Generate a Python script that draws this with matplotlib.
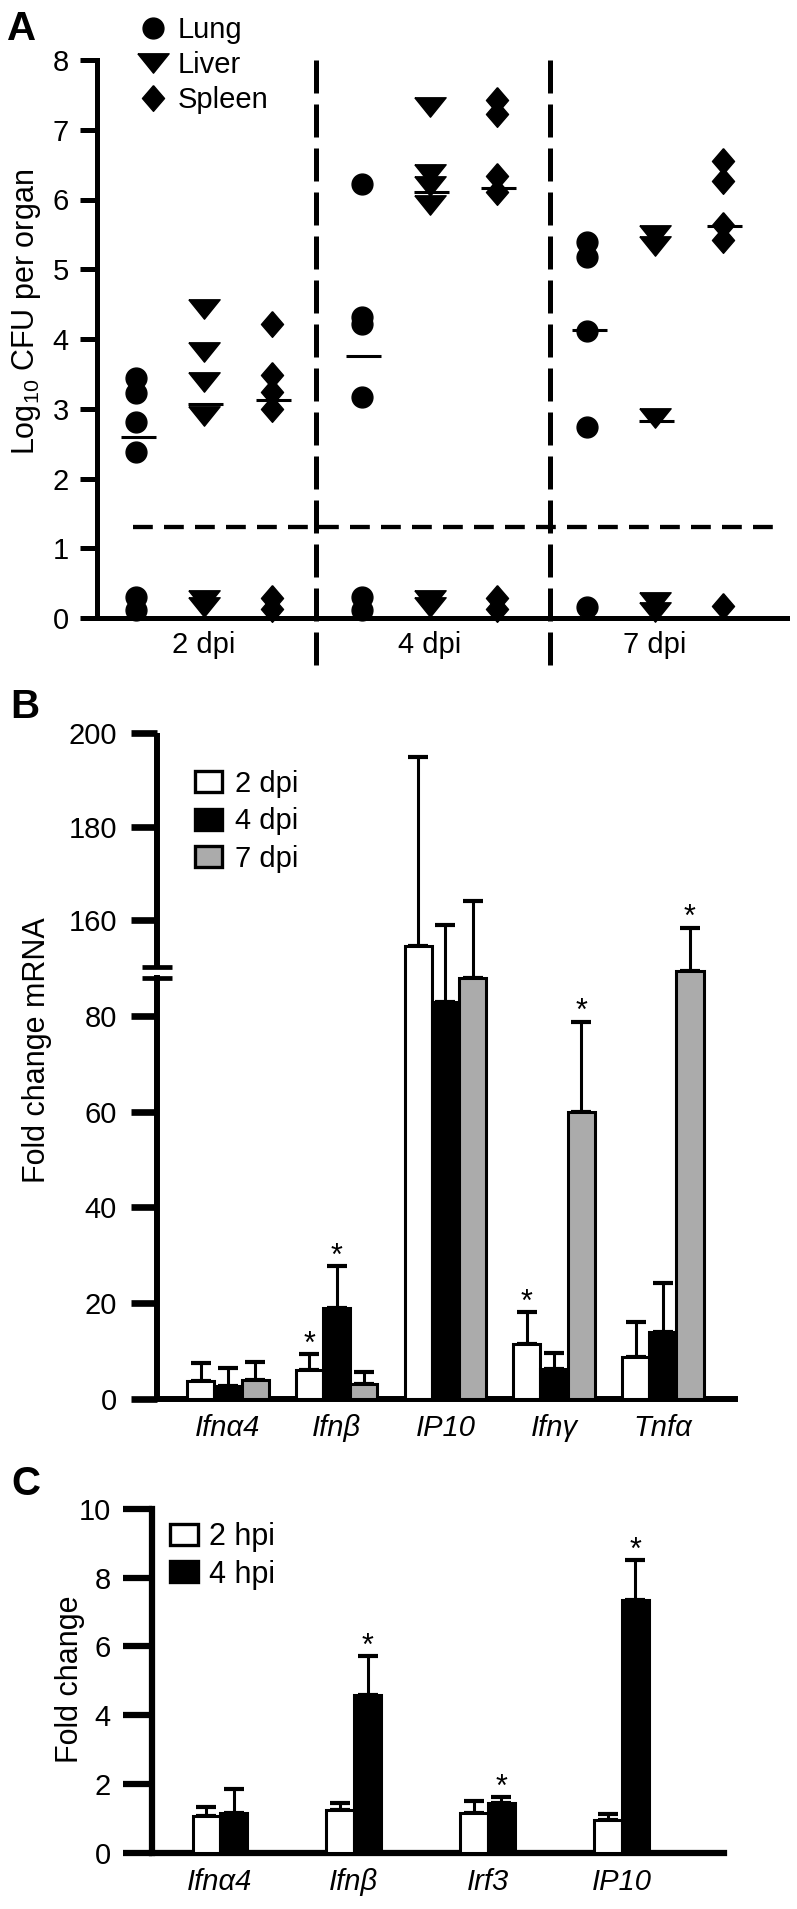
import numpy as np
import matplotlib
matplotlib.use('Agg')
import matplotlib.pyplot as plt
from matplotlib.path import Path
from matplotlib.lines import Line2D
from matplotlib.patches import Patch

plt.rcParams['font.family'] = ['Liberation Sans', 'DejaVu Sans']
plt.rcParams['mathtext.fontset'] = 'custom'
plt.rcParams['mathtext.rm'] = 'Liberation Sans'
plt.rcParams['mathtext.it'] = 'Liberation Sans:italic'

# ---------------- Panel A data ----------------
days_A = ['2 dpi', '4 dpi', '7 dpi']
organs = ['Lung', 'Liver', 'Spleen']
lung_cfu = [[3.44, 3.22, 2.81, 2.38, 0.30, 0.11],
            [6.22, 4.32, 4.22, 3.17, 0.30, 0.11],
            [5.39, 5.17, 4.11, 2.74, 0.16]]
liver_cfu = [[4.43, 3.82, 3.38, 2.90, 0.26, 0.16],
             [7.33, 6.36, 6.20, 5.92, 0.26, 0.16],
             [5.49, 5.33, 2.87, 0.23, 0.08]]
spleen_cfu = [[4.21, 3.48, 3.24, 2.99, 0.29, 0.13],
              [7.42, 7.22, 6.33, 6.11, 0.29, 0.13],
              [6.55, 6.27, 5.64, 5.42, 0.17]]
lung_median = [2.59, 3.75, 4.13]
liver_median = [3.07, 6.11, 2.82]
spleen_median = [3.12, 6.17, 5.62]
detection_limit = 1.3

# ---------------- Panel B data ----------------
genes_B = ['Ifnα4', 'Ifnβ', 'IP10', 'Ifnγ', 'Tnfα']
series_B = ['2 dpi', '4 dpi', '7 dpi']
dpi2_mean = [3.7, 6.0, 154.5, 11.5, 8.8]
dpi2_sem = [3.9, 3.4, 40.5, 6.6, 7.2]
dpi4_mean = [2.7, 19.0, 82.9, 6.3, 13.9]
dpi4_sem = [3.8, 8.8, 76.0, 3.3, 10.3]
dpi7_mean = [4.0, 3.1, 88.0, 60.0, 89.4]
dpi7_sem = [3.8, 2.6, 76.1, 18.8, 69.0]
dpi2_sig = [False, True, False, True, False]
dpi4_sig = [False, True, False, False, False]
dpi7_sig = [False, False, False, True, True]
yticks_B = [0, 20, 40, 60, 80, 160, 180, 200]

# ---------------- Panel C data ----------------
genes_C = ['Ifnα4', 'Ifnβ', 'Irf3', 'IP10']
series_C = ['2 hpi', '4 hpi']
hpi2_mean = [1.08, 1.25, 1.17, 0.95]
hpi2_sem = [0.26, 0.20, 0.33, 0.17]
hpi4_mean = [1.16, 4.58, 1.44, 7.34]
hpi4_sem = [0.71, 1.14, 0.18, 1.16]
hpi2_sig = [False, False, False, False]
hpi4_sig = [False, True, True, True]
yticks_C = [0, 2, 4, 6, 8, 10]

W, H = 797, 1909
fig = plt.figure(figsize=(W / 100, H / 100), dpi=100)


def ax_px(left, right, top, bottom):
    return fig.add_axes([left / W, 1 - bottom / H, (right - left) / W, (bottom - top) / H])


FS = 21
GRAY = '#ababab'

# ======================= Panel A =======================
axA = ax_px(96.7, 787, 60, 618)
axA.set_xlim(-0.476, 2.585)
axA.set_ylim(0, 8)
for s in ['top', 'right']:
    axA.spines[s].set_visible(False)
for s in ['left', 'bottom']:
    axA.spines[s].set_linewidth(3.6)
axA.tick_params(axis='y', length=12, width=3.6, pad=8, labelsize=FS, direction='out')
axA.tick_params(axis='x', length=0, pad=9.5, labelsize=FS)
axA.set_yticks(range(0, 9))
axA.set_xticks(range(len(days_A)))
axA.set_xticklabels(days_A)

tri = Path([(-1, 0.62), (1, 0.62), (0, -0.62), (-1, 0.62)])
dia = Path([(0, 1), (0.86, 0), (0, -1), (-0.86, 0), (0, 1)])
marker_defs = [('o', 15), (tri, 22.5), (dia, 18.5)]
offsets_A = [-0.3, 0.0, 0.3]
organ_data = [lung_cfu, liver_cfu, spleen_cfu]
organ_med = [lung_median, liver_median, spleen_median]
for oi, (vals, meds) in enumerate(zip(organ_data, organ_med)):
    mk, ms = marker_defs[oi]
    for gi in range(len(days_A)):
        xpos = gi + offsets_A[oi]
        v = vals[gi]
        axA.plot([xpos] * len(v), v, ls='none', marker=mk, ms=ms, color='k',
                 mec='k', clip_on=False, zorder=4)
        axA.plot([xpos - 0.07, xpos + 0.085], [meds[gi], meds[gi]], color='k',
                 lw=2.2, zorder=5, solid_capstyle='butt')

axA.axhline(detection_limit, xmin=0.053, xmax=0.987, color='k', lw=3.1,
            ls=(0, (4.6, 2.6)), zorder=3)
for xv in [0.495, 1.533]:
    axA.plot([xv, xv], [-0.68, 8.0], color='k', lw=3.6, ls=(0, (6.6, 2.2)),
             clip_on=False, zorder=3)

fig.text(27 / W, 1 - 312 / H, r'Log$_{\mathregular{10}}$ CFU per organ', rotation=90,
         ha='center', va='center', fontsize=22)

handlesA = [Line2D([], [], ls='none', marker=m, ms=s, color='k') for m, s in marker_defs]
axA.legend(handlesA, organs, loc='upper left', bbox_to_anchor=(139 / W, 1 - 16 / H),
           bbox_transform=fig.transFigure, frameon=False, fontsize=FS,
           handlelength=0.95, handletextpad=0.36, labelspacing=0.24,
           borderpad=0, borderaxespad=0)

# ======================= Panel B =======================
axB = ax_px(157.2, 735.4, 733.3, 1399)
nodes_v = [0, 90, 150, 200]
nodes_p = [0, 431, 432, 665.7]


def fwd(v):
    return np.interp(v, nodes_v, nodes_p)


def inv(p):
    return np.interp(p, nodes_p, nodes_v)


axB.set_yscale('function', functions=(fwd, inv))
axB.set_ylim(0, 200)
axB.set_xlim(-0.651, 4.668)
for s in ['top', 'right']:
    axB.spines[s].set_visible(False)
for s in ['left', 'bottom']:
    axB.spines[s].set_linewidth(4.3)
BRK_LO, BRK_HI = 88.0, 150.1
axB.spines['left'].set_bounds(0, BRK_LO)
axB.plot([0, 0], [BRK_HI, 200], transform=axB.get_yaxis_transform(), color='k',
         lw=4.3, clip_on=False, solid_capstyle='butt', zorder=6)
for yb in [BRK_LO, BRK_HI]:
    axB.plot([-0.027, 0.025], [yb, yb], transform=axB.get_yaxis_transform(), color='k',
             lw=3.4, clip_on=False, solid_capstyle='butt', zorder=6)
axB.set_yticks(yticks_B)
axB.set_yticklabels([str(t) for t in yticks_B])
axB.yaxis.set_minor_locator(matplotlib.ticker.NullLocator())
axB.tick_params(axis='y', length=19, width=4.8, pad=10, labelsize=FS, direction='out')
axB.tick_params(axis='x', length=0, pad=11, labelsize=FS)
xB = np.arange(len(genes_B))
axB.set_xticks(xB)
axB.set_xticklabels(genes_B, fontstyle='italic')

bw = 0.25
colors_B = ['white', 'black', GRAY]
means_B = [dpi2_mean, dpi4_mean, dpi7_mean]
sems_B = [dpi2_sem, dpi4_sem, dpi7_sem]
sigs_B = [dpi2_sig, dpi4_sig, dpi7_sig]
for si in range(3):
    xs = xB + (si - 1) * bw
    m = np.array(means_B[si])
    e = np.array(sems_B[si])
    axB.bar(xs, m, width=bw, color=colors_B[si], edgecolor='k', linewidth=2.2,
            zorder=3, label=series_B[si])
    axB.errorbar(xs, m, yerr=[np.zeros_like(e), e], fmt='none', ecolor='k',
                 elinewidth=2.2, capsize=7, capthick=3, zorder=2)
    for xi, mi, ei, sg in zip(xs, m, e, sigs_B[si]):
        if sg:
            axB.annotate('*', xy=(xi, mi + ei), xytext=(0, 1), textcoords='offset points',
                         ha='center', va='baseline', fontsize=22, zorder=7)

handlesB = [Patch(facecolor=c, edgecolor='k', linewidth=2.4) for c in colors_B]
axB.legend(handlesB, series_B, loc='upper left', bbox_to_anchor=(195 / W, 1 - 770 / H),
           bbox_transform=fig.transFigure, frameon=False, fontsize=FS,
           handlelength=0.93, handleheight=0.74, handletextpad=0.45, labelspacing=0.32,
           borderpad=0, borderaxespad=0)

fig.text(37 / W, 1 - 1050 / H, 'Fold change mRNA', rotation=90, ha='center',
         va='center', fontsize=22)

# ======================= Panel C =======================
axC = ax_px(152.2, 723.7, 1508.7, 1853)
axC.set_ylim(0, 10)
axC.set_xlim(-0.506, 3.762)
for s in ['top', 'right']:
    axC.spines[s].set_visible(False)
for s in ['left', 'bottom']:
    axC.spines[s].set_linewidth(4.5)
axC.set_yticks(yticks_C)
axC.tick_params(axis='y', length=21, width=4.5, pad=9, labelsize=FS, direction='out')
axC.tick_params(axis='x', length=0, pad=10.5, labelsize=FS)
xC = np.arange(len(genes_C))
axC.set_xticks(xC)
axC.set_xticklabels(genes_C, fontstyle='italic')

bwc = 0.205
colors_C = ['white', 'black']
means_C = [hpi2_mean, hpi4_mean]
sems_C = [hpi2_sem, hpi4_sem]
sigs_C = [hpi2_sig, hpi4_sig]
for si in range(2):
    xs = xC + (si - 0.5) * bwc
    m = np.array(means_C[si])
    e = np.array(sems_C[si])
    axC.bar(xs, m, width=bwc, color=colors_C[si], edgecolor='k', linewidth=2.2, zorder=3)
    axC.errorbar(xs, m, yerr=[np.zeros_like(e), e], fmt='none', ecolor='k',
                 elinewidth=2.2, capsize=7, capthick=3, zorder=2)
    for xi, mi, ei, sg in zip(xs, m, e, sigs_C[si]):
        if sg:
            axC.annotate('*', xy=(xi, mi + ei), xytext=(0, 1), textcoords='offset points',
                         ha='center', va='baseline', fontsize=22, zorder=7)

handlesC = [Patch(facecolor=c, edgecolor='k', linewidth=2.4) for c in colors_C]
axC.legend(handlesC, series_C, loc='upper left', bbox_to_anchor=(169.5 / W, 1 - 1522 / H),
           bbox_transform=fig.transFigure, frameon=False, fontsize=22,
           handlelength=0.92, handleheight=0.68, handletextpad=0.36, labelspacing=0.25,
           borderpad=0, borderaxespad=0)

fig.text(70 / W, 1 - 1679 / H, 'Fold change', rotation=90, ha='center',
         va='center', fontsize=22)

# Panel letters
fig.text(7 / W, 1 - 40 / H, 'A', fontsize=29, fontweight='bold', va='baseline')
fig.text(10 / W, 1 - 718 / H, 'B', fontsize=29, fontweight='bold', va='baseline')
fig.text(11 / W, 1 - 1495 / H, 'C', fontsize=29, fontweight='bold', va='baseline')

fig.savefig('out.png', dpi=100)
